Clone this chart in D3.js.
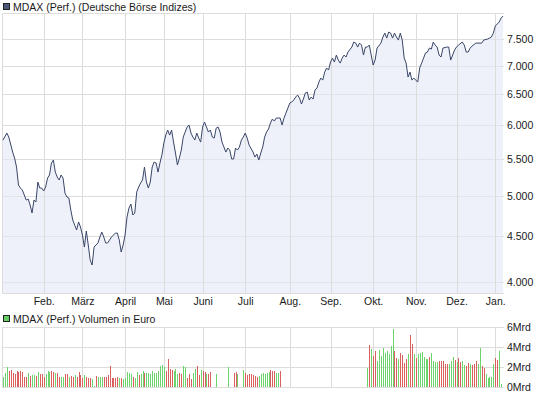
<!DOCTYPE html>
<html>
<head>
<meta charset="utf-8">
<script src="https://cdn.jsdelivr.net/npm/d3@7"></script>
<style>
	body { margin: 0; background: #fff; }
	svg text { font-family: "Liberation Sans", Arial, sans-serif; font-size: 10.5px; fill: #1a1a1a; }
</style>
</head>
<body>
<svg id="chart" width="545" height="395"></svg>
<script>

// trading-day index 0 = 2 Jan 2009, 258 = 8 Jan 2010
var monthLabels = ['Feb.', 'März', 'April', 'Mai', 'Juni', 'Juli', 'Aug.', 'Sep.', 'Okt.', 'Nov.', 'Dez.', 'Jan.'];
var monthStart = [21, 41, 63, 83, 103, 125, 148, 169, 191, 213, 234, 254];

var priceTicks = [4000, 4500, 5000, 5500, 6000, 6500, 7000, 7500];
var volumeTicks = [0, 2, 4, 6];

// MDAX close, by trading day
var priceDay = [0, 2, 3, 5, 6, 7, 8, 9, 10, 12, 13, 14, 15, 16, 17, 18, 19, 20, 21, 22, 23, 24, 25, 26, 27, 28, 29, 30, 31, 32, 33, 34, 35, 36, 37, 38, 39, 40, 41, 42, 43, 44, 45, 46, 47, 48, 49, 50, 51, 52, 53, 54, 55, 56, 58, 59, 60, 61, 62, 63, 64, 65, 66, 67, 68, 69, 70, 71, 72, 73, 74, 75, 76, 77, 78, 79, 80, 81, 82, 83, 84, 85, 86, 87, 88, 89, 90, 91, 92, 93, 95, 96, 97, 98, 99, 100, 101, 102, 103, 104, 105, 106, 107, 108, 109, 110, 111, 112, 113, 115, 116, 117, 118, 119, 120, 121, 122, 123, 124, 125, 126, 127, 129, 130, 131, 132, 133, 134, 135, 136, 137, 138, 139, 140, 141, 142, 143, 144, 145, 146, 147, 148, 149, 150, 151, 152, 153, 154, 155, 156, 157, 158, 159, 160, 161, 162, 163, 164, 165, 166, 167, 168, 169, 170, 171, 172, 173, 174, 175, 176, 177, 178, 180, 181, 182, 183, 184, 185, 186, 187, 188, 189, 190, 191, 192, 193, 195, 196, 197, 198, 199, 200, 201, 202, 203, 204, 205, 206, 207, 208, 209, 210, 211, 212, 213, 214, 215, 216, 217, 218, 219, 220, 221, 222, 223, 224, 225, 226, 227, 229, 230, 231, 232, 233, 234, 235, 237, 238, 239, 240, 241, 242, 244, 245, 247, 248, 250, 251, 252, 253, 254, 255, 256, 257, 258];
var priceVal = [5775, 5881, 5820, 5599, 5512, 5386, 5141, 5101, 5075, 4945, 4958, 4882, 4782, 4945, 4920, 5181, 5101, 5101, 5062, 5114, 5235, 5276, 5442, 5484, 5316, 5248, 5208, 5276, 5235, 5035, 4984, 4971, 4819, 4696, 4635, 4576, 4672, 4612, 4517, 4379, 4564, 4402, 4234, 4180, 4379, 4402, 4425, 4494, 4552, 4494, 4425, 4425, 4459, 4494, 4540, 4540, 4459, 4323, 4402, 4517, 4732, 4844, 4894, 4757, 4782, 5048, 5114, 5168, 5208, 5386, 5181, 5101, 5181, 5386, 5456, 5442, 5316, 5442, 5556, 5730, 5850, 5927, 5850, 5927, 5745, 5585, 5414, 5512, 5628, 5820, 5973, 6004, 5881, 5820, 5775, 5881, 5805, 5745, 5973, 6051, 5973, 5896, 5927, 5820, 5805, 5957, 5973, 5896, 5745, 5599, 5657, 5628, 5499, 5499, 5657, 5628, 5672, 5775, 5820, 5881, 5805, 5701, 5599, 5527, 5570, 5484, 5585, 5672, 5820, 5896, 5942, 6035, 6098, 6066, 6114, 6114, 6114, 6004, 6114, 6193, 6274, 6356, 6372, 6405, 6455, 6488, 6438, 6339, 6422, 6522, 6539, 6405, 6455, 6422, 6573, 6607, 6710, 6780, 6745, 6886, 6958, 6922, 7067, 7140, 7067, 7196, 7103, 7048, 7140, 7196, 7159, 7252, 7346, 7442, 7422, 7346, 7422, 7384, 7196, 7346, 7346, 7384, 7196, 7012, 7103, 7327, 7422, 7539, 7617, 7519, 7637, 7617, 7519, 7617, 7539, 7480, 7617, 7480, 7140, 7048, 6798, 6886, 6745, 6780, 6745, 6710, 6958, 7048, 7140, 7233, 7252, 7327, 7308, 7442, 7384, 7346, 7196, 7159, 7327, 7346, 7346, 7103, 7196, 7290, 7346, 7384, 7442, 7384, 7252, 7252, 7327, 7365, 7422, 7422, 7422, 7480, 7500, 7519, 7539, 7617, 7756, 7797, 7837, 7918, 7960];

// volume in Mrd Euro, with direction of the day (g = up, r = down)
var volDay = d3.range(0, 108)
	.concat([110, 116, 119, 120, 121])
	.concat(d3.range(124, 144))
	.concat(d3.range(188, 258));
var volVal = [
	1.0, 1.43, 2.0, 1.6, 1.7, 1.43, 1.33, 1.6, 1.5, 1.6, 1.5, 1.0, 1.0, 1.43, 1.1, 1.2, 1.2, 1.1, 1.5, 1.33,
	1.33, 1.0, 1.33, 1.6, 1.5, 1.6, 1.53, 1.43, 1.43, 1.0, 1.0, 1.0, 1.33, 1.33, 1.0, 1.1, 1.0, 1.2, 1.0, 1.5,
	1.2, 0.93, 1.2, 1.0, 0.87, 0.87, 0.77, 0.1, 1.1, 1.0, 1.0, 1.0, 1.0, 1.0, 1.2, 2.1, 0.87, 0.93, 0.93, 1.0,
	0.87, 0.87, 0.77, 0.87, 1.5, 1.43, 1.33, 1.0, 0.87, 1.5, 1.2, 1.33, 1.6, 1.43, 1.43, 1.43, 1.33, 1.6, 1.43, 1.43,
	1.6, 2.1, 2.2, 2.0, 1.6, 2.77, 1.83, 1.7, 1.6, 1.77, 1.33, 1.43, 1.33, 2.1, 2.0, 0.87, 1.27, 0.77, 1.43, 1.77,
	2.1, 1.2, 1.7, 1.6, 1.53, 1.33, 1.33, 1.53,
	1.33, 2.0, 1.43, 1.53, 1.33,
	1.67, 1.43, 1.2, 1.33, 1.27, 1.2, 1.1, 1.0, 1.1, 1.33, 1.43, 1.33, 1.43, 1.53, 1.67, 1.6, 1.6, 1.43, 1.43, 1.6,
	1.93, 4.2, 3.77, 3.1, 3.6, 2.6, 3.67, 3.1, 3.93, 3.43, 3.6, 3.33, 4.1, 5.77, 3.6, 2.87, 2.77, 3.43, 3.2, 2.43,
	2.77, 3.27, 5.2, 4.27, 3.33, 2.87, 3.27, 3.43, 3.53, 3.0, 2.77, 2.77, 3.0, 3.43, 2.6, 2.53, 2.53, 2.6, 2.6, 2.6,
	2.33, 2.33, 2.33, 2.6, 3.0, 2.67, 2.53, 2.93, 2.5, 2.6, 2.2, 2.1, 2.43, 2.33, 2.2, 2.33, 2.6, 2.33, 3.93, 2.1,
	1.87, 1.33, 0.87, 1.0, 1.0, 2.27, 2.93, 2.67, 3.6, 0.27
];
var volDir = (
	'gggrrrrrrrrrrgrggrgrrrgggrrgrrggrrgrrgrrrrgrrrggrgggrrrrrrrrgrgggggrggrggrggggggggggrrrrgggrrggrrrggrrgrrgrr' +
	'ggrrg' +
	'grrrrrrrggggggrrrggr' +
	'grgrrgggggggggrrgrrrrgrrgrggggggrggggrrrrrgggrgrrggrrgrrrggrrgggggrrggrgg'
).split('');

var svg = d3.select('#chart');

var x = d3.scaleLinear().domain([-0.5, 258.5]).range([2, 504]);
var y = d3.scaleLog().domain([3888, 8023]).range([293, 13]);
var yv = d3.scaleLinear().domain([0, 6]).range([387, 327]);

var de = d3.formatLocale({ decimal: ',', thousands: '.', grouping: [3], currency: ['', ' €'] });
var fmtPrice = de.format(',');

function crisp(v) { return Math.round(v) + 0.5; }

var gridColor = '#dcdcdc';

// ---- price panel
var main = svg.append('g').attr('class', 'main');

main.selectAll('line.hgrid')
	.data(priceTicks)
	.enter().append('line')
	.attr('class', 'hgrid')
	.attr('x1', 2).attr('x2', 504)
	.attr('y1', function (d) { return crisp(y(d)); })
	.attr('y2', function (d) { return crisp(y(d)); })
	.attr('stroke', gridColor);

var series = priceDay.map(function (d, i) { return { day: d, v: priceVal[i] }; });

main.append('path')
	.datum(series)
	.attr('fill', '#eef1fa')
	.attr('d', d3.area()
		.x(function (d) { return x(d.day); })
		.y0(293)
		.y1(function (d) { return y(d.v); }));

main.selectAll('line.vgrid')
	.data(monthStart)
	.enter().append('line')
	.attr('class', 'vgrid')
	.attr('x1', function (d) { return crisp(x(d)); })
	.attr('x2', function (d) { return crisp(x(d)); })
	.attr('y1', 13).attr('y2', 293)
	.attr('stroke', gridColor);

main.selectAll('line.hgrid2')
	.data(priceTicks)
	.enter().append('line')
	.attr('x1', 2).attr('x2', 504)
	.attr('y1', function (d) { return crisp(y(d)); })
	.attr('y2', function (d) { return crisp(y(d)); })
	.attr('stroke', gridColor)
	.attr('stroke-opacity', 0.6);

// frame
main.append('path')
	.attr('d', 'M504,13.5H2.5V293.5H504')
	.attr('fill', 'none')
	.attr('stroke', gridColor);

main.append('path')
	.datum(series)
	.attr('fill', 'none')
	.attr('stroke', '#3a4668')
	.attr('stroke-width', 1)
	.attr('d', d3.line()
		.x(function (d) { return x(d.day); })
		.y(function (d) { return y(d.v); }));

main.selectAll('text.ylab')
	.data(priceTicks)
	.enter().append('text')
	.attr('class', 'ylab')
	.attr('x', 507)
	.attr('y', function (d) { return crisp(y(d)); })
	.attr('dy', '0.35em')
	.text(fmtPrice);

main.selectAll('text.xlab')
	.data(monthStart)
	.enter().append('text')
	.attr('class', 'xlab')
	.attr('text-anchor', 'middle')
	.attr('x', function (d) { return x(d) + 0.5; })
	.attr('y', 305)
	.text(function (d, i) { return monthLabels[i]; });

main.append('rect')
	.attr('x', 3.5).attr('y', 3.5).attr('width', 6).attr('height', 6)
	.attr('fill', '#4c587a').attr('stroke', '#222');
main.append('text')
	.attr('x', 13).attr('y', 10.5)
	.text('MDAX (Perf.) (Deutsche Börse Indizes)');

// ---- volume panel
var vol = svg.append('g').attr('class', 'volume');

vol.selectAll('line.hgrid')
	.data(volumeTicks)
	.enter().append('line')
	.attr('x1', 2).attr('x2', 504)
	.attr('y1', function (d) { return yv(d) + 0.5; })
	.attr('y2', function (d) { return yv(d) + 0.5; })
	.attr('stroke', gridColor);

vol.selectAll('line.vgrid')
	.data(monthStart)
	.enter().append('line')
	.attr('x1', function (d) { return crisp(x(d)); })
	.attr('x2', function (d) { return crisp(x(d)); })
	.attr('y1', 327).attr('y2', 388)
	.attr('stroke', gridColor);

vol.append('line')
	.attr('x1', 2.5).attr('x2', 2.5)
	.attr('y1', 327).attr('y2', 388)
	.attr('stroke', gridColor);

vol.selectAll('rect.bar')
	.data(volDay)
	.enter().append('rect')
	.attr('class', 'bar')
	.attr('x', function (d) { return Math.round(x(d)); })
	.attr('width', 1)
	.attr('y', function (d, i) { return Math.round(yv(volVal[i])); })
	.attr('height', function (d, i) { return 387 - Math.round(yv(volVal[i])); })
	.attr('fill', function (d, i) { return volDir[i] === 'g' ? '#6cd46c' : '#d9605e'; })
	.attr('shape-rendering', 'crispEdges');

vol.selectAll('text.ylab')
	.data(volumeTicks)
	.enter().append('text')
	.attr('x', 507)
	.attr('y', function (d) { return yv(d) + 0.5; })
	.attr('dy', '0.35em')
	.text(function (d) { return d + 'Mrd'; });

vol.append('rect')
	.attr('x', 3.5).attr('y', 315.5).attr('width', 6).attr('height', 6)
	.attr('fill', '#66cc66').attr('stroke', '#222');
vol.append('text')
	.attr('x', 13).attr('y', 322.5)
	.text('MDAX (Perf.) Volumen in Euro');

</script>
</body>
</html>
